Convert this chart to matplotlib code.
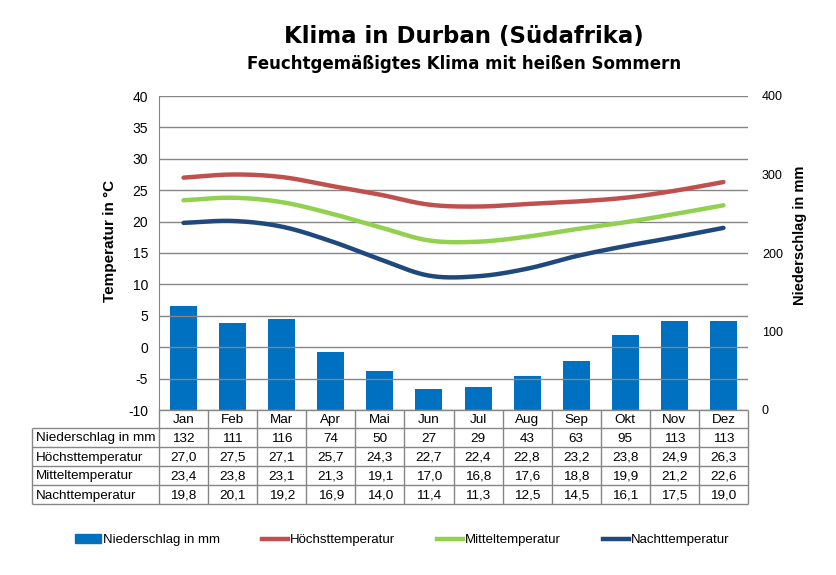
import numpy as np
import matplotlib
matplotlib.use("Agg")
import matplotlib.pyplot as plt
from matplotlib.lines import Line2D
from matplotlib.patches import Patch

plt.rcParams['font.family'] = ['Liberation Sans', 'DejaVu Sans']
plt.rcParams['axes.unicode_minus'] = False

months = ["Jan", "Feb", "Mar", "Apr", "Mai", "Jun", "Jul", "Aug", "Sep", "Okt", "Nov", "Dez"]
niederschlag = [132, 111, 116, 74, 50, 27, 29, 43, 63, 95, 113, 113]
hoechst = [27.0, 27.5, 27.1, 25.7, 24.3, 22.7, 22.4, 22.8, 23.2, 23.8, 24.9, 26.3]
mittel = [23.4, 23.8, 23.1, 21.3, 19.1, 17.0, 16.8, 17.6, 18.8, 19.9, 21.2, 22.6]
nacht = [19.8, 20.1, 19.2, 16.9, 14.0, 11.4, 11.3, 12.5, 14.5, 16.1, 17.5, 19.0]
row_labels = ["Niederschlag in mm", "Höchsttemperatur", "Mitteltemperatur", "Nachttemperatur"]

c_bar = "#0070C0"
c_red = "#C0504D"
c_green = "#92D050"
c_navy = "#1F497D"
c_grid = "#868686"


def smooth(y, n=20):
    """Catmull-Rom style smoothing through the data points (for drawing only)."""
    y = np.asarray(y, float)
    x = np.arange(len(y), dtype=float)
    P = np.concatenate([[2 * y[0] - y[1]], y, [2 * y[-1] - y[-2]]])
    xs, ys = [], []
    for i in range(len(y) - 1):
        p0, p1, p2, p3 = P[i], P[i + 1], P[i + 2], P[i + 3]
        t = np.linspace(0, 1, n, endpoint=False)
        yy = 0.5 * ((2 * p1) + (-p0 + p2) * t + (2 * p0 - 5 * p1 + 4 * p2 - p3) * t ** 2
                    + (-p0 + 3 * p1 - 3 * p2 + p3) * t ** 3)
        xs.append(x[i] + t)
        ys.append(yy)
    xs.append([x[-1]])
    ys.append([y[-1]])
    return np.concatenate(xs), np.concatenate(ys)


fig = plt.figure(figsize=(8.36, 5.75), dpi=100)
W, H = 836, 575
L, R, T, B = 159, 748, 96, 410
ax = fig.add_axes([L / W, 1 - B / H, (R - L) / W, (B - T) / H])
ax2 = ax.twinx()

x = np.arange(12)
ax2.bar(x, niederschlag, width=0.55, color=c_bar, zorder=2)
ax2.set_ylim(0, 400)
ax2.set_yticks([0, 100, 200, 300, 400])
ax2.tick_params(axis='y', length=0, labelsize=9, pad=10)
ax2.set_ylabel("Niederschlag in mm", fontsize=10.5, fontweight='bold')
ax2.yaxis.set_label_coords((793 - L) / (R - L), (B - 235) / (B - T))

ax.set_zorder(ax2.get_zorder() + 1)
ax.patch.set_visible(False)
for vals, col in [(hoechst, c_red), (mittel, c_green), (nacht, c_navy)]:
    sx, sy = smooth(vals)
    ax.plot(sx, sy, color=col, lw=3.2, solid_capstyle='round')

ax.set_ylim(-10, 40)
ax.set_xlim(-0.5, 11.5)
ax.set_yticks(np.arange(-10, 41, 5))
ax.tick_params(axis='y', length=0, labelsize=10, pad=8)
ax.set_xticks([])
ax.grid(axis='y', color=c_grid, lw=1)
ax.set_ylabel("Temperatur in °C", fontsize=11, fontweight='bold')
ax.yaxis.set_label_coords((117 - L) / (R - L), (B - 241) / (B - T))

for a in (ax, ax2):
    for s in ('top', 'right', 'bottom'):
        a.spines[s].set_visible(False)
ax2.spines['left'].set_visible(False)
ax.spines['left'].set_color(c_grid)

# data table (own axes, x aligned with the chart's month positions)
TL, TB = 32, 504
unit = (R - L) / 12.0
tax = fig.add_axes([TL / W, 1 - TB / H, (R - TL) / W, (TB - B) / H])
x_left = -0.5 - (L - TL) / unit
tax.set_xlim(x_left, 11.5)
row_edges = [0, 18, 37, 56, 75, 94]
tax.set_ylim(94, 0)
tax.axis('off')
lkw = dict(color=c_grid, lw=1, clip_on=False)
tax.hlines(row_edges[1:], x_left, 11.5, **lkw)
tax.hlines(0, -0.5, 11.5, **lkw)
tax.vlines([x_left], row_edges[1], row_edges[-1], **lkw)
tax.vlines(np.arange(13) - 0.5, 0, row_edges[-1], **lkw)

fs = 9.7
for i, m in enumerate(months):
    tax.text(i, (row_edges[0] + row_edges[1]) / 2 + 1, m, ha='center', va='center', fontsize=fs)
cell_text = [[str(v) for v in niederschlag]]
for arr in (hoechst, mittel, nacht):
    cell_text.append([f"{v:.1f}".replace(".", ",") for v in arr])
for r, (lab, vals) in enumerate(zip(row_labels, cell_text)):
    yc = (row_edges[r + 1] + row_edges[r + 2]) / 2 + 1
    tax.text(x_left + 4 / unit, yc, lab, ha='left', va='center', fontsize=fs)
    for i, v in enumerate(vals):
        tax.text(i, yc, v, ha='center', va='center', fontsize=fs)

# titles
fig.text(464 / W, 1 - 36 / H, "Klima in Durban (Südafrika)", ha='center', va='center',
         fontsize=16.5, fontweight='bold', family='DejaVu Sans')
fig.text(464 / W, 1 - 64 / H, "Feuchtgemäßigtes Klima mit heißen Sommern", ha='center',
         va='center', fontsize=12, fontweight='bold', family='DejaVu Sans')

handles = [Patch(facecolor=c_bar, edgecolor=c_bar),
           Line2D([], [], color=c_red, lw=3.2),
           Line2D([], [], color=c_green, lw=3.2),
           Line2D([], [], color=c_navy, lw=3.2)]
leg = fig.legend(handles, ["Niederschlag in mm", "Höchsttemperatur", "Mitteltemperatur",
                           "Nachttemperatur"],
                 loc='center', bbox_to_anchor=(402 / W, 1 - 540 / H), ncol=4, frameon=False,
                 handlelength=2.0, handleheight=0.6, handletextpad=0.1, columnspacing=3.2,
                 prop={'family': ['Liberation Sans Narrow', 'Liberation Sans'], 'size': 9.5})

fig.savefig("out.png", dpi=100)
